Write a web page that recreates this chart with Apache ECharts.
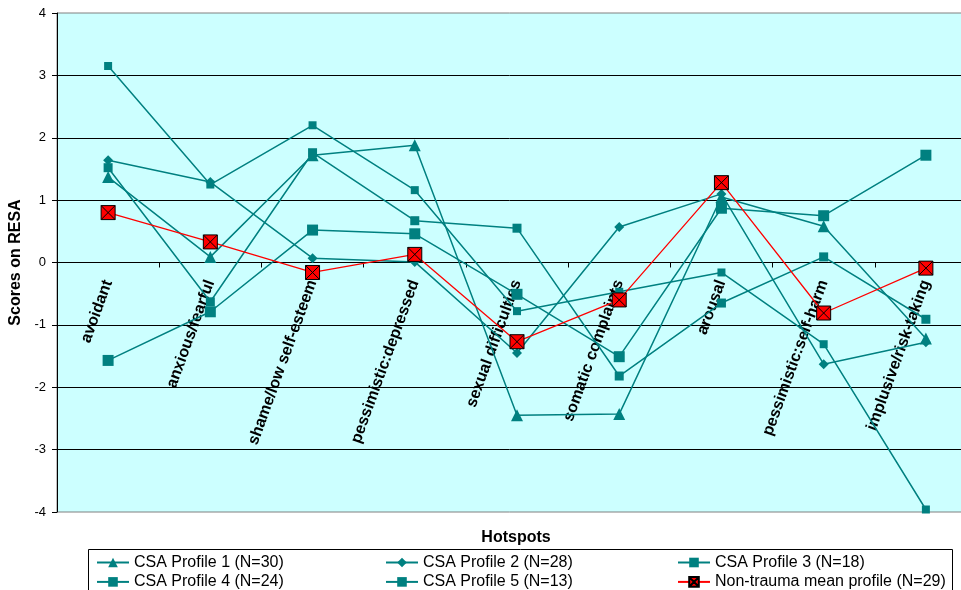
<!DOCTYPE html>
<html>
<head>
<meta charset="utf-8">
<script src="https://cdn.jsdelivr.net/npm/echarts@6/dist/echarts.min.js"></script>
<style>
html,body{margin:0;padding:0;background:#fff;}
#chart{width:961px;height:590px;}
</style>
</head>
<body>
<div id="chart"></div>
<script>
var categories = ['avoidant','anxious/fearful','shame/low self-esteem','pessimistic:depressed','sexual difficulties','somatic complaints','arousal','pessimistic:self-harm','implusive/risk-taking'];
var seriesNames = ['CSA Profile 1 (N=30)','CSA Profile 2 (N=28)','CSA Profile 3 (N=18)','CSA Profile 4 (N=24)','CSA Profile 5 (N=13)','Non-trauma mean profile (N=29)'];
var profile1 = [1.37, 0.09, 1.72, 1.88, -2.45, -2.43, 1.05, 0.58, -1.22];
var profile2 = [1.64, 1.29, 0.07, 0.01, -1.45, 0.57, 1.10, -1.63, -1.28];
var profile3 = [3.15, 1.25, 2.20, 1.16, -0.78, -0.47, -0.16, -1.31, -3.96];
var profile4 = [1.52, -0.63, 1.76, 0.67, 0.55, -1.82, -0.65, 0.09, -0.91];
var profile5 = [-1.57, -0.79, 0.52, 0.46, -0.51, -1.51, 0.87, 0.75, 1.72];
var nonTrauma = [0.80, 0.33, -0.16, 0.13, -1.27, -0.60, 1.28, -0.81, -0.09];
var yTicks = [-4, -3, -2, -1, 0, 1, 2, 3, 4];

var FONT = '"Liberation Sans", Arial, sans-serif';
var TEAL = '#008080';
var xSymbol = 'path://M0 0H10V10H0Z M0 0L10 10 M10 0L0 10';

var GRID_TOP = 13, GRID_BOTTOM_PX = 512;
var plotH = GRID_BOTTOM_PX - GRID_TOP;
var yMin = yTicks[0], yMax = yTicks[yTicks.length - 1];
// distance from bottom edge of plot to the zero line (axis placement only)
var zeroOffset = plotH * (0 - yMin) / (yMax - yMin);

function teal(name, data, symbol, size) {
  return {
    name: name, type: 'line', data: data,
    symbol: symbol, symbolSize: size,
    lineStyle: {color: TEAL, width: 1.5},
    itemStyle: {color: TEAL},
    emphasis: {disabled: true}
  };
}

var chart = echarts.init(document.getElementById('chart'), null, {renderer: 'canvas'});
var legendCommon = {
  orient: 'vertical', top: 553, height: 80, padding: 0, itemGap: 0.4,
  itemWidth: 32, itemHeight: 12,
  textStyle: {fontFamily: FONT, fontSize: 16, color: '#000', lineHeight: 19},
  selectedMode: false
};
chart.setOption({
  animation: false,
  backgroundColor: '#fff',
  grid: {left: 57, right: -16, top: GRID_TOP, bottom: 590 - GRID_BOTTOM_PX, show: true,
         outerBoundsMode: 'none', containLabel: false,
         backgroundColor: '#CCFFFF', borderColor: '#808080', borderWidth: 1},
  xAxis: {
    type: 'category', data: categories, boundaryGap: true,
    position: 'bottom', offset: -zeroOffset,
    axisLine: {onZero: false, lineStyle: {color: '#000', width: 1}},
    axisTick: {show: true, inside: false, length: 5, lineStyle: {color: '#000'}},
    axisLabel: {rotate: 70, margin: 18, fontFamily: FONT, fontSize: 16, fontWeight: 'bold', color: '#000', interval: 0},
    splitLine: {show: false}
  },
  yAxis: {
    type: 'value', min: yMin, max: yMax, interval: 1,
    name: 'Scores on RESA', nameLocation: 'middle', nameRotate: 90, nameGap: 29,
    nameTextStyle: {fontFamily: FONT, fontSize: 16, fontWeight: 'bold', color: '#000'},
    axisLine: {show: true, onZero: false, lineStyle: {color: '#000', width: 1}},
    axisTick: {show: true, inside: false, length: 5, lineStyle: {color: '#000'}},
    axisLabel: {margin: 11, fontFamily: FONT, fontSize: 13, color: '#000'},
    splitLine: {show: true, showMinLine: false, showMaxLine: false, lineStyle: {color: '#000', width: 1}}
  },
  legend: [
    Object.assign({left: 96, data: [seriesNames[0], seriesNames[3]]}, legendCommon),
    Object.assign({left: 385, data: [seriesNames[1], seriesNames[4]]}, legendCommon),
    Object.assign({left: 677, data: [seriesNames[2], seriesNames[5]]}, legendCommon)
  ],
  graphic: [
    {type: 'rect', shape: {x: 88.5, y: 549.5, width: 864, height: 60},
     style: {fill: 'none', stroke: '#000', lineWidth: 1}, silent: true},
    {type: 'text', x: 516, y: 538,
     style: {text: 'Hotspots', font: 'bold 16px ' + FONT, fill: '#000', textAlign: 'center', textVerticalAlign: 'middle'}}
  ],
  series: [
    teal(seriesNames[0], profile1, 'triangle', 12),
    teal(seriesNames[1], profile2, 'diamond', 10),
    teal(seriesNames[2], profile3, 'rect', 8),
    teal(seriesNames[3], profile4, 'rect', 9),
    teal(seriesNames[4], profile5, 'rect', 11),
    {
      name: seriesNames[5], type: 'line', data: nonTrauma,
      symbol: xSymbol, symbolSize: 14,
      lineStyle: {color: '#FF0000', width: 1.3},
      itemStyle: {color: '#FF0000', borderColor: '#000', borderWidth: 1},
      emphasis: {disabled: true}
    }
  ]
});
</script>
</body>
</html>
